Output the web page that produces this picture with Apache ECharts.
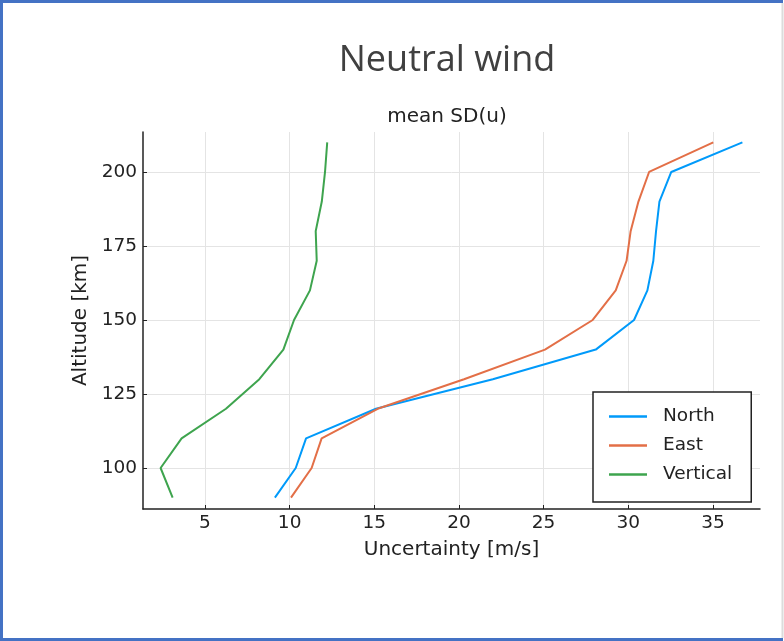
<!DOCTYPE html>
<html>
<head>
<meta charset="utf-8">
<script src="https://cdn.jsdelivr.net/npm/echarts@6/dist/echarts.min.js"></script>
<style>
html, body { margin: 0; padding: 0; background: #fff; }
#chart { width: 784px; height: 641px; }
</style>
</head>
<body>
<div id="chart"></div>
<script>
// altitude levels [km]
const altitude = [90, 100, 110, 120, 130, 140, 150, 160, 170, 180, 190, 200, 210];
// mean SD(u) per component [m/s]
const north = [9.13, 10.36, 10.97, 15.1, 22.0, 28.08, 30.34, 31.13, 31.48, 31.64, 31.84, 32.54, 36.74];
const east = [10.08, 11.3, 11.89, 15.2, 20.3, 25.08, 27.9, 29.26, 29.9, 30.14, 30.6, 31.23, 35.02];
const vertical = [3.09, 2.38, 3.62, 6.24, 8.21, 9.63, 10.26, 11.2, 11.6, 11.54, 11.9, 12.09, 12.22];
const seriesNames = ['North', 'East', 'Vertical'];
const xTicks = [5, 10, 15, 20, 25, 30, 35];
const yTicks = [100, 125, 150, 175, 200];

const chart = echarts.init(document.getElementById('chart'));

const toPoints = vals => vals.map((v, i) => [v, altitude[i]]);
const colors = ['#009AFA', '#E36F47', '#3EA44E'];
const font = 'DejaVu Sans';

const axisCommon = {
  type: 'value',
  nameLocation: 'middle',
  nameTextStyle: { fontFamily: font, fontSize: 20, color: '#222' },
  axisLine: { show: true, onZero: false, lineStyle: { color: '#222', width: 1.5 } },
  axisTick: { show: true, inside: true, length: 4, lineStyle: { color: '#222', width: 1 } },
  axisLabel: { fontFamily: font, fontSize: 18.5, color: '#222' },
  splitLine: { show: true, lineStyle: { color: '#e4e4e4', width: 1 } }
};

const option = {
  animation: false,
  backgroundColor: '#fff',
  graphic: [
    { type: 'polyline', shape: { points: [[783, 1.5], [1.5, 1.5], [1.5, 639.5], [783, 639.5]] },
      style: { stroke: '#4472C4', lineWidth: 3, fill: null } },
    { type: 'line', shape: { x1: 782.5, y1: 3, x2: 782.5, y2: 638 },
      style: { stroke: '#dcdcdc', lineWidth: 2 } },
    { type: 'text', x: 447, y: 61,
      style: { text: 'Neutral wind', fontFamily: 'Open Sans', fontSize: 36, fill: '#404040',
               align: 'center', verticalAlign: 'middle' } },
    { type: 'text', x: 447, y: 117,
      style: { text: 'mean SD(u)', fontFamily: font, fontSize: 20, fill: '#222',
               align: 'center', verticalAlign: 'middle' } }
  ],
  grid: { left: 143, right: 24, top: 132, bottom: 132, containLabel: false },
  legend: {
    data: seriesNames,
    orient: 'vertical',
    left: 593,
    top: 392,
    padding: [15, 19, 18, 16],
    itemGap: 10,
    itemWidth: 38,
    itemHeight: 2.5,
    icon: 'rect',
    backgroundColor: '#fff',
    borderColor: '#222',
    borderWidth: 1.5,
    borderRadius: 0,
    textStyle: { fontFamily: font, fontSize: 18.5, color: '#222', lineHeight: 19, padding: [0, 0, 0, 11] }
  },
  xAxis: Object.assign({}, axisCommon, {
    name: 'Uncertainty [m/s]',
    nameGap: 31,
    min: 1.34,
    max: 37.78,
    minInterval: 5,
    maxInterval: 5,
    axisLabel: Object.assign({}, axisCommon.axisLabel, { margin: 5, customValues: xTicks }),
    axisTick: Object.assign({}, axisCommon.axisTick, { customValues: xTicks })
  }),
  yAxis: Object.assign({}, axisCommon, {
    name: 'Altitude [km]',
    nameGap: 49,
    min: 86.15,
    max: 213.5,
    minInterval: 25,
    maxInterval: 25,
    axisLabel: Object.assign({}, axisCommon.axisLabel, { margin: 6, customValues: yTicks }),
    axisTick: Object.assign({}, axisCommon.axisTick, { customValues: yTicks })
  }),
  series: [north, east, vertical].map((vals, i) => ({
    name: seriesNames[i],
    type: 'line',
    data: toPoints(vals),
    showSymbol: false,
    symbol: 'none',
    color: colors[i],
    lineStyle: { color: colors[i], width: 2 }
  }))
};

chart.setOption(option);
</script>
</body>
</html>
